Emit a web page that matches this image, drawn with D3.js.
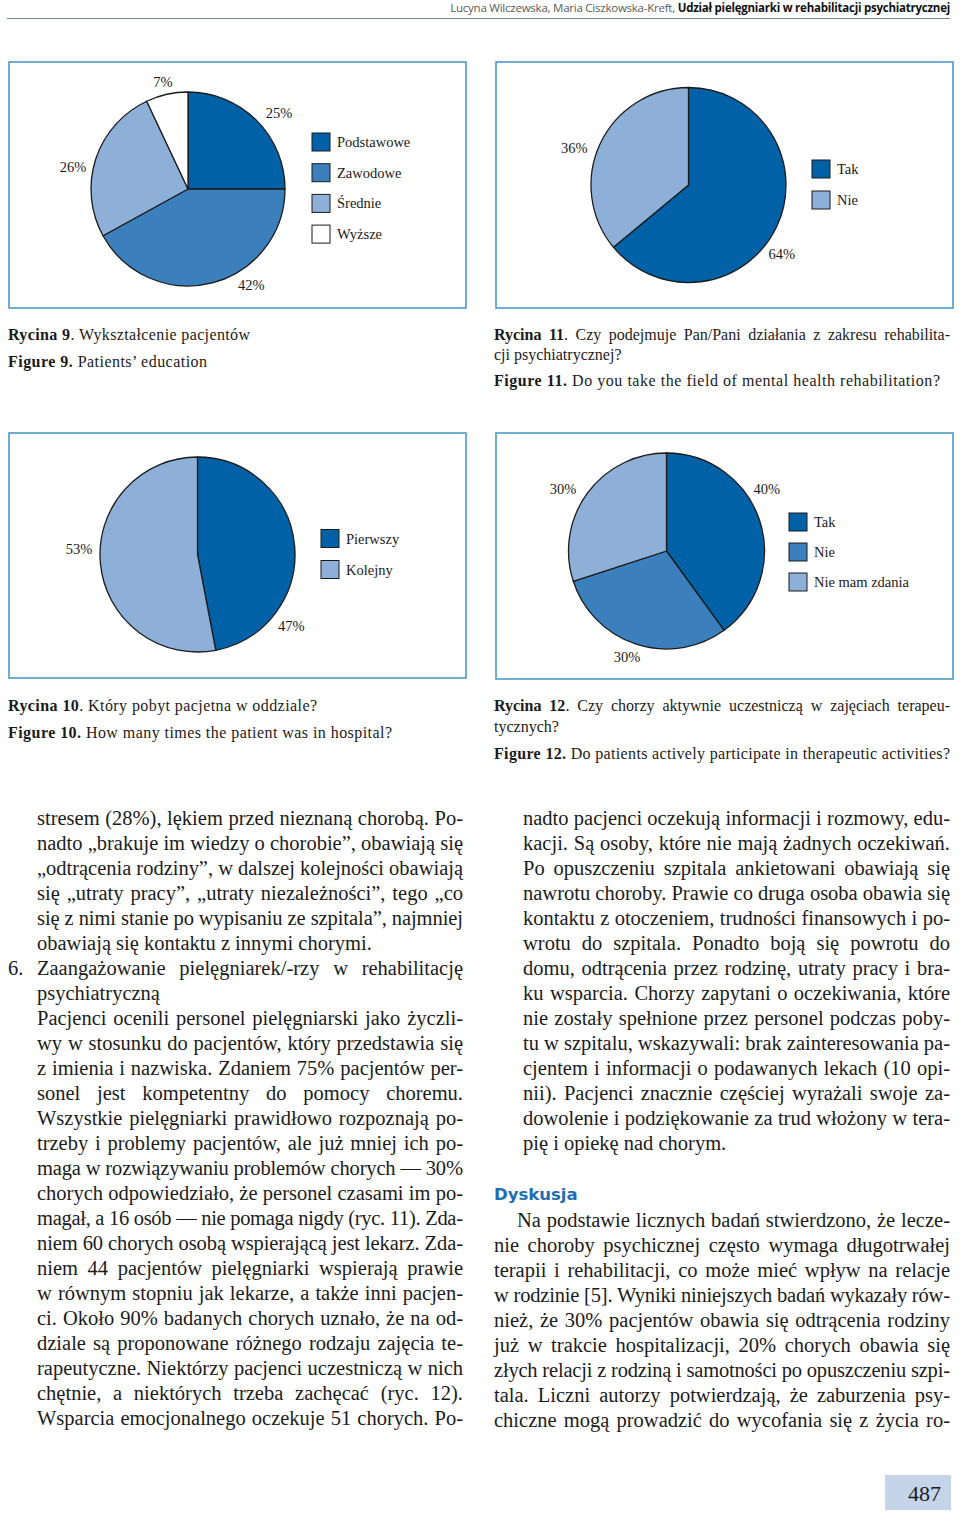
<!DOCTYPE html>
<html>
<head>
<meta charset="utf-8">
<script src="https://cdn.jsdelivr.net/npm/d3@7"></script>
<style>
  body { margin: 0; background: #fff; }
  #page { position: relative; width: 960px; height: 1519px; overflow: hidden;
          font-family: "Liberation Serif", "Times New Roman", serif; color: #1b1b1b; }
  #page svg { position: absolute; left: 0; top: 0; }
  .ln { position: absolute; white-space: nowrap; }
</style>
</head>
<body>
<div id="page"></div>
<script>

// ---- chart data ----
var eduCategories = ["Podstawowe", "Zawodowe", "Średnie", "Wyższe"];
var eduValues = [25, 42, 26, 7];

var rehabCategories = ["Tak", "Nie"];
var rehabValues = [64, 36];

var stayCategories = ["Pierwszy", "Kolejny"];
var stayValues = [47, 53];

var activityCategories = ["Tak", "Nie", "Nie mam zdania"];
var activityValues = [40, 30, 30];

// ---- page text ----
var headerAuthors = "Lucyna Wilczewska, Maria Ciszkowska-Kreft, ";
var headerTitle = "Udział pielęgniarki w rehabilitacji psychiatrycznej";

var caption9 = ["<b>Rycina 9</b>. Wykształcenie pacjentów", "<b>Figure 9.</b> Patients’ education"];
var caption11 = ["<b>Rycina 11</b>. Czy podejmuje Pan/Pani działania z zakresu rehabilita-",
                 "cji psychiatrycznej?",
                 "<b>Figure 11.</b> Do you take the field of mental health rehabilitation?"];
var caption10 = ["<b>Rycina 10</b>. Który pobyt pacjetna w oddziale?",
                 "<b>Figure 10.</b> How many times the patient was in hospital?"];
var caption12 = ["<b>Rycina 12</b>. Czy chorzy aktywnie uczestniczą w zajęciach terapeu-",
                 "tycznych?",
                 "<b>Figure 12.</b> Do patients actively participate in therapeutic activities?"];

var leftPara1 = [
  "stresem (28%), lękiem przed nieznaną chorobą. Po-",
  "nadto „brakuje im wiedzy o chorobie”, obawiają się",
  "„odtrącenia rodziny”, w dalszej kolejności obawiają",
  "się „utraty pracy”, „utraty niezależności”, tego „co",
  "się z nimi stanie po wypisaniu ze szpitala”, najmniej",
  "obawiają się kontaktu z innymi chorymi."
];
var sectionNumber = "6.";
var sectionTitle = ["Zaangażowanie pielęgniarek/-rzy w rehabilitację", "psychiatryczną"];
var leftPara2 = [
  "Pacjenci ocenili personel pielęgniarski jako życzli-",
  "wy w stosunku do pacjentów, który przedstawia się",
  "z imienia i nazwiska. Zdaniem 75% pacjentów per-",
  "sonel jest kompetentny do pomocy choremu.",
  "Wszystkie pielęgniarki prawidłowo rozpoznają po-",
  "trzeby i problemy pacjentów, ale już mniej ich po-",
  "maga w rozwiązywaniu problemów chorych — 30%",
  "chorych odpowiedziało, że personel czasami im po-",
  "magał, a 16 osób — nie pomaga nigdy (ryc. 11). Zda-",
  "niem 60 chorych osobą wspierającą jest lekarz. Zda-",
  "niem 44 pacjentów pielęgniarki wspierają prawie",
  "w równym stopniu jak lekarze, a także inni pacjen-",
  "ci. Około 90% badanych chorych uznało, że na od-",
  "dziale są proponowane różnego rodzaju zajęcia te-",
  "rapeutyczne. Niektórzy pacjenci uczestniczą w nich",
  "chętnie, a niektórych trzeba zachęcać (ryc. 12).",
  "Wsparcia emocjonalnego oczekuje 51 chorych. Po-"
];
var rightPara1 = [
  "nadto pacjenci oczekują informacji i rozmowy, edu-",
  "kacji. Są osoby, które nie mają żadnych oczekiwań.",
  "Po opuszczeniu szpitala ankietowani obawiają się",
  "nawrotu choroby. Prawie co druga osoba obawia się",
  "kontaktu z otoczeniem, trudności finansowych i po-",
  "wrotu do szpitala. Ponadto boją się powrotu do",
  "domu, odtrącenia przez rodzinę, utraty pracy i bra-",
  "ku wsparcia. Chorzy zapytani o oczekiwania, które",
  "nie zostały spełnione przez personel podczas poby-",
  "tu w szpitalu, wskazywali: brak zainteresowania pa-",
  "cjentem i informacji o podawanych lekach (10 opi-",
  "nii). Pacjenci znacznie częściej wyrażali swoje za-",
  "dowolenie i podziękowanie za trud włożony w tera-",
  "pię i opiekę nad chorym."
];
var discussionTitle = "Dyskusja";
var discussionPara = [
  "Na podstawie licznych badań stwierdzono, że lecze-",
  "nie choroby psychicznej często wymaga długotrwałej",
  "terapii i rehabilitacji, co może mieć wpływ na relacje",
  "w rodzinie [5]. Wyniki niniejszych badań wykazały rów-",
  "nież, że 30% pacjentów obawia się odtrącenia rodziny",
  "już w trakcie hospitalizacji, 20% chorych obawia się",
  "złych relacji z rodziną i samotności po opuszczeniu szpi-",
  "tala. Liczni autorzy potwierdzają, że zaburzenia psy-",
  "chiczne mogą prowadzić do wycofania się z życia ro-"
];
var pageNumber = "487";

// ---- colours ----
var dark = "#0061a6", mid = "#3b80bd", light = "#8eb0d8", blank = "#ffffff";

var page = d3.select("#page");
var svg = page.append("svg").attr("width", 960).attr("height", 1519);

// header rule
svg.append("line")
  .attr("x1", 7).attr("x2", 950).attr("y1", 18.5).attr("y2", 18.5)
  .attr("stroke", "#74858f").attr("stroke-width", 1);

// ---- pies ----
var charts = [
  { cats: eduCategories, vals: eduValues, colors: [dark, mid, light, blank],
    box: [9, 62, 457, 246], cx: 188, cy: 189, r: 97,
    legend: { x: 312, y: 133, step: 30.7 },
    labelAdj: [[5, 119], [-19, 115], [-7, 117], [-0.6, 110]] },
  { cats: rehabCategories, vals: rehabValues, colors: [dark, light],
    box: [496, 62, 457, 246], cx: 688.5, cy: 185, r: 97.5,
    legend: { x: 812, y: 160, step: 31 },
    labelAdj: [[11.2, 116], [-7.2, 120]] },
  { cats: stayCategories, vals: stayValues, colors: [dark, light],
    box: [9, 433, 457, 245], cx: 197.5, cy: 554.5, r: 97.5,
    legend: { x: 321, y: 529.5, step: 31 },
    labelAdj: [[42.8, 118], [8.1, 118.6]] },
  { cats: activityCategories, vals: activityValues, colors: [dark, mid, light],
    box: [496, 433, 457, 246], cx: 666.5, cy: 551, r: 98,
    legend: { x: 789, y: 513, step: 30 },
    labelAdj: [[-13.7, 118], [2.4, 113], [-5.1, 120.6]] }
];

charts.forEach(function(c) {
  var data = c.cats.map(function(k, i) { return { cat: k, value: c.vals[i] }; });
  var color = d3.scaleOrdinal().domain(c.cats).range(c.colors);

  svg.append("rect")
    .attr("x", c.box[0]).attr("y", c.box[1]).attr("width", c.box[2]).attr("height", c.box[3])
    .attr("fill", "#fff").attr("stroke", "#4d9ac6").attr("stroke-width", 1.6);

  var pie = d3.pie().sort(null).value(function(d) { return d.value; });
  var arc = d3.arc().innerRadius(0).outerRadius(c.r);
  var arcs = pie(data);

  var g = svg.append("g").attr("transform", "translate(" + c.cx + "," + c.cy + ")");
  g.selectAll("path")
    .data(arcs)
    .enter()
    .append("path")
      .attr("d", arc)
      .attr("fill", function(d) { return color(d.data.cat); })
      .attr("stroke", "#1b1b1b")
      .attr("stroke-width", 1.3)
      .attr("stroke-linejoin", "round");

  // percentage labels outside the pie
  g.selectAll("text")
    .data(arcs)
    .enter()
    .append("text")
      .attr("x", function(d, i) {
        var a = (d.startAngle + d.endAngle) / 2 + c.labelAdj[i][0] * Math.PI / 180;
        return c.labelAdj[i][1] * Math.sin(a);
      })
      .attr("y", function(d, i) {
        var a = (d.startAngle + d.endAngle) / 2 + c.labelAdj[i][0] * Math.PI / 180;
        return -c.labelAdj[i][1] * Math.cos(a);
      })
      .attr("text-anchor", "middle")
      .attr("dominant-baseline", "central")
      .style("font-family", "'Liberation Serif', serif")
      .style("font-size", "14.5px")
      .attr("fill", "#1b1b1b")
      .text(function(d) { return d.data.value + "%"; });

  // legend
  var lg = svg.append("g");
  var item = lg.selectAll("g")
    .data(data)
    .enter()
    .append("g")
      .attr("transform", function(d, i) { return "translate(" + c.legend.x + "," + (c.legend.y + i * c.legend.step) + ")"; });
  item.append("rect")
    .attr("width", 18).attr("height", 18)
    .attr("fill", function(d) { return color(d.cat); })
    .attr("stroke", "#1b1b1b").attr("stroke-width", 1);
  item.append("text")
    .attr("x", 25).attr("y", 9)
    .attr("dominant-baseline", "central")
    .style("font-family", "'Liberation Serif', serif")
    .style("font-size", "14.5px")
    .attr("fill", "#1b1b1b")
    .text(function(d) { return d.cat; });
});

// page number block
svg.append("rect").attr("x", 885).attr("y", 1475).attr("width", 66).attr("height", 35).attr("fill", "#c6d4ea");
svg.append("text")
  .attr("x", 941).attr("y", 1501)
  .attr("text-anchor", "end")
  .style("font-family", "'Liberation Serif', serif").style("font-size", "22px")
  .attr("fill", "#1b1b1b")
  .text(pageNumber);

// ---- text lines (HTML, stretched/squeezed to the column like the print) ----
function placeLine(o) {
  var lh = o.lh || 25;
  var d = page.append("div").attr("class", "ln")
    .style("left", o.x + "px")
    .style("top", (o.y - lh / 2) + "px")
    .style("font-size", o.size + "px")
    .style("line-height", lh + "px")
    .html(o.html);
  if (o.family) d.style("font-family", o.family);
  if (o.weight) d.style("font-weight", o.weight);
  if (o.color) d.style("color", o.color);

  var txt = d.node().textContent;
  var nat = d.node().getBoundingClientRect().width;
  if (o.w) {
    var gap = o.w - nat;
    var spaces = (txt.match(/[ \u00a0]/g) || []).length;
    if (o.justify && gap >= 0 && spaces > 0) {
      d.style("word-spacing", (gap / spaces) + "px");
    } else if (o.justify || o.fit || gap < 0) {
      var ls = gap / Math.max(1, txt.length - 1);
      if (!o.justify && !o.fit) ls = Math.min(0, ls);
      d.style("letter-spacing", Math.max(-1.2, Math.min(1, ls)) + "px");
    }
  }
  if (o.right != null) {
    var w = d.node().getBoundingClientRect().width;
    d.style("left", (o.right - w) + "px");
  }
  return d;
}

function block(lines, x, y0, w, opts) {
  lines.forEach(function(t, i) {
    var last = i === lines.length - 1;
    var indent = (opts.indent && i === 0) ? opts.indent : 0;
    placeLine({ x: x + indent, y: y0 + i * 25, w: w - indent, html: t, size: 20.5,
                justify: !(last && !opts.continues) });
  });
}

// header
placeLine({ x: 450, right: 950, y: 7.5, lh: 15, size: 11.5, w: 500, fit: true,
            family: "'Open Sans', sans-serif", color: "#5a5a5a",
            html: headerAuthors.replace(/ $/, "&nbsp;") + "<span style='font-weight:700;color:#111'>" + headerTitle + "</span>" });

// captions
function captions(lines, x, ys, ws, just) {
  lines.forEach(function(t, i) {
    placeLine({ x: x, y: ys[i], w: ws[i], html: t, size: 16, lh: 20, justify: just[i], fit: !just[i] && ws[i] != null });
  });
}
captions(caption9, 8, [335, 362], [242, 199], [false, false]);
captions(caption11, 494, [335, 355, 381], [456, null, 446], [true, false, false]);
captions(caption10, 8, [706, 733], [309, 384], [false, false]);
captions(caption12, 494, [706, 727, 754], [456, null, 456], [true, false, false]);

// body columns
block(leftPara1, 37, 818, 426, {});
placeLine({ x: 8, y: 968, html: sectionNumber, size: 20.5 });
block(sectionTitle, 37, 968, 426, {});
block(leftPara2, 37, 1018, 426, { continues: true });
block(rightPara1, 523, 818, 427, {});
placeLine({ x: 494, y: 1195, html: discussionTitle, size: 16.5, lh: 22, weight: 700,
            family: "'DejaVu Sans', sans-serif", color: "#1f6db4" });
block(discussionPara, 494, 1220, 456, { indent: 23, continues: true });

</script>
</body>
</html>
